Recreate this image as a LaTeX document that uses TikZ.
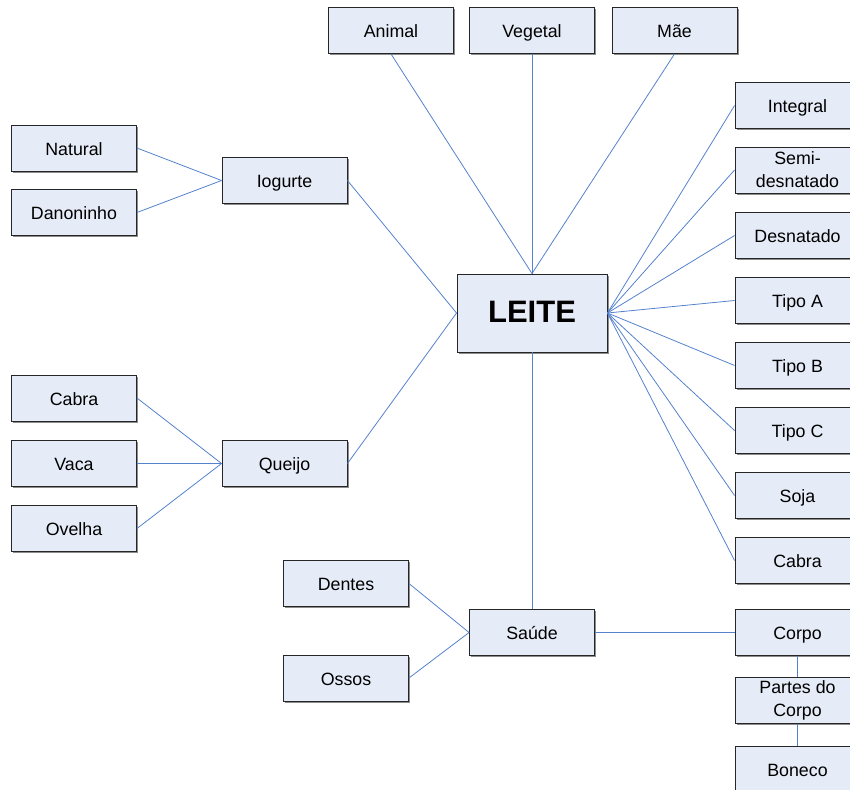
\documentclass[tikz,border=0pt]{standalone}
\usepackage{fontspec}
\setmainfont{Liberation Sans}
\usetikzlibrary{shadows}
\definecolor{boxfill}{RGB}{230,236,247}
\definecolor{linkblue}{RGB}{84,130,204}
\tikzset{
  box/.style={draw=black!85,line width=0.9pt,fill=boxfill,minimum width=125pt,minimum height=46pt,
    inner sep=1pt,align=center,font=\fontsize{17.8}{23}\selectfont,text height=14.2pt,text depth=0pt,
    drop shadow={shadow xshift=1.6pt,shadow yshift=-1.6pt,fill=black!45,opacity=1}},
  twoline/.style={text height=,text depth=},
  link/.style={draw=linkblue,line width=0.8pt}
}
\begin{document}
\begin{tikzpicture}[x=1pt,y=-1pt]
  \useasboundingbox (0,0) rectangle (850,789);
  \clip (0,0) rectangle (850,789);
  % centre
  \node[box,minimum width=150pt,minimum height=78pt,text height=19.5pt,text depth=0pt,font=\fontsize{31}{34}\selectfont\bfseries] (leite) at (532,313) {LEITE};
  % top row
  \node[box] (animal) at (391,30.5) {Animal};
  \node[box] (vegetal) at (532,30.5) {Vegetal};
  \node[box] (mae) at (674.5,30.5) {Mãe};
  % right column
  \node[box] (integral) at (797.5,105.5) {Integral};
  \node[box,twoline] (semi) at (797.5,170) {Semi-\\desnatado};
  \node[box] (desnatado) at (797.5,235.5) {Desnatado};
  \node[box] (tipoa) at (797.5,300.5) {Tipo A};
  \node[box] (tipob) at (797.5,365.5) {Tipo B};
  \node[box] (tipoc) at (797.5,430.5) {Tipo C};
  \node[box] (soja) at (797.5,495.5) {Soja};
  \node[box] (cabrar) at (797.5,560.5) {Cabra};
  % left side
  \node[box] (iogurte) at (284.5,180.5) {Iogurte};
  \node[box] (natural) at (74,148) {Natural};
  \node[box] (danoninho) at (74,212.5) {Danoninho};
  \node[box] (queijo) at (284.5,463.5) {Queijo};
  \node[box] (cabral) at (74,398) {Cabra};
  \node[box] (vaca) at (74,463.5) {Vaca};
  \node[box] (ovelha) at (74,528.5) {Ovelha};
  % bottom
  \node[box] (saude) at (532,632.5) {Saúde};
  \node[box] (dentes) at (346,583.5) {Dentes};
  \node[box] (ossos) at (346,678) {Ossos};
  \node[box] (corpo) at (797.5,632.5) {Corpo};
  \node[box,twoline] (partes) at (797.5,700.5) {Partes do\\Corpo};
  \node[box] (boneco) at (797.5,769) {Boneco};
  % connectors
  \foreach \n in {animal,vegetal,mae}
    \draw[link] (\n.south) -- (leite.north);
  \foreach \n in {integral,semi,desnatado,tipoa,tipob,tipoc,soja,cabrar}
    \draw[link] (leite.east) -- (\n.west);
  \draw[link] (iogurte.east) -- (leite.west);
  \draw[link] (queijo.east) -- (leite.west);
  \foreach \n in {natural,danoninho}
    \draw[link] (\n.east) -- (iogurte.west);
  \foreach \n in {cabral,vaca,ovelha}
    \draw[link] (\n.east) -- (queijo.west);
  \draw[link] (leite.south) -- (saude.north);
  \foreach \n in {dentes,ossos}
    \draw[link] (\n.east) -- (saude.west);
  \draw[link] (saude.east) -- (corpo.west);
  \draw[link] (corpo.south) -- (partes.north);
  \draw[link] (partes.south) -- (boneco.north);
\end{tikzpicture}
\end{document}
